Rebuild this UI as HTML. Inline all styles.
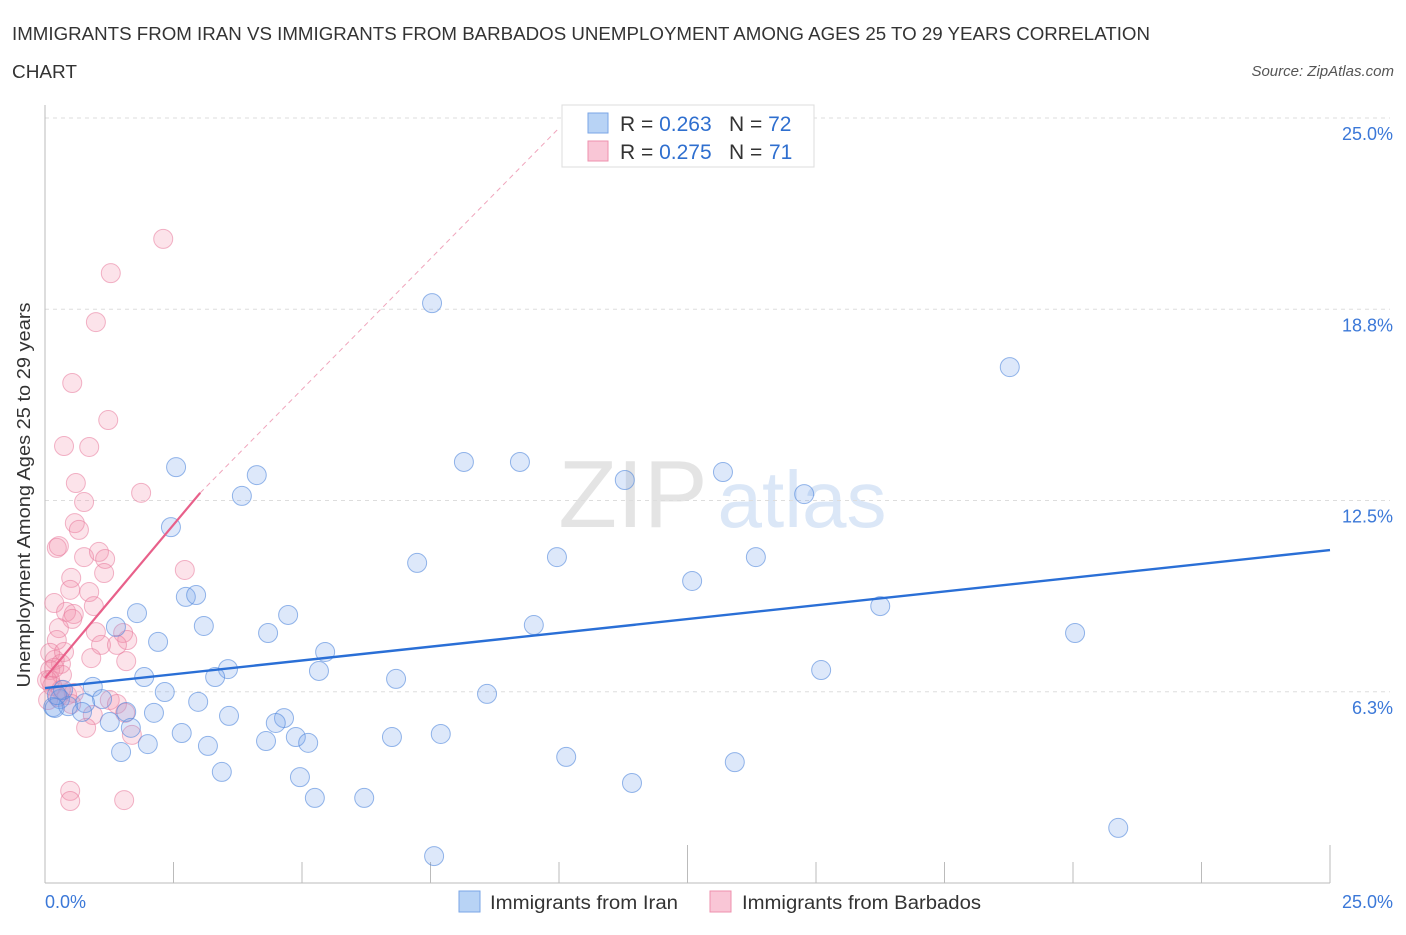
<!DOCTYPE html>
<html><head><meta charset="utf-8"><style>
body{margin:0;background:#fff;font-family:"Liberation Sans",sans-serif;}
svg text{font-family:"Liberation Sans",sans-serif;white-space:pre;}
</style></head><body>
<svg id="chart" width="1406" height="930" viewBox="0 0 1406 930">
<text x="12" y="40" font-size="18" fill="#333" textLength="1138" lengthAdjust="spacingAndGlyphs">IMMIGRANTS FROM IRAN VS IMMIGRANTS FROM BARBADOS UNEMPLOYMENT AMONG AGES 25 TO 29 YEARS CORRELATION</text>
<text x="12" y="78" font-size="18" fill="#333" textLength="65" lengthAdjust="spacingAndGlyphs">CHART</text>
<text x="1394" y="76" font-size="15" fill="#555" font-style="italic" text-anchor="end">Source: ZipAtlas.com</text>
<text x="30" y="495" font-size="18" fill="#333" text-anchor="middle" transform="rotate(-90 30 495)" textLength="385" lengthAdjust="spacingAndGlyphs">Unemployment Among Ages 25 to 29 years</text>
<g id="watermark">
<text x="633" y="527" font-size="96" fill="#e4e4e4" font-family="Liberation Serif" text-anchor="middle">ZIP</text>
<text x="802" y="527" font-size="80" fill="#dbe7f7" text-anchor="middle">atlas</text>
</g>
<g id="grid"></g>
<g id="ticks"></g>
<g id="points"></g>
<g id="lines"></g>
<g>
<rect x="562" y="105" width="252" height="62" fill="#fff" stroke="#ddd"/>
<rect x="588" y="113" width="20" height="20" fill="#b8d3f5" stroke="#7aa6e6"/>
<rect x="588" y="141" width="20" height="20" fill="#f9c6d6" stroke="#ee90ae"/>
<text x="620" y="131" font-size="21" fill="#333">R = <tspan fill="#2f6fcf">0.263</tspan><tspan x="729">N = </tspan><tspan fill="#2f6fcf">72</tspan></text>
<text x="620" y="159" font-size="21" fill="#333">R = <tspan fill="#2f6fcf">0.275</tspan><tspan x="729">N = </tspan><tspan x="769" fill="#2f6fcf">71</tspan></text>
</g>
<g>
<rect x="459" y="891" width="21" height="21" fill="#b8d3f5" stroke="#7aa6e6"/>
<text x="490" y="909" font-size="19" fill="#333" textLength="188" lengthAdjust="spacingAndGlyphs">Immigrants from Iran</text>
<rect x="710" y="891" width="21" height="21" fill="#f9c6d6" stroke="#ee90ae"/>
<text x="742" y="909" font-size="19" fill="#333" textLength="239" lengthAdjust="spacingAndGlyphs">Immigrants from Barbados</text>
</g>
</svg>
<script>
const yTicks=[25.0,18.75,12.5,6.25];
const yTickLabels=["25.0%","18.8%","12.5%","6.3%"];
const xTickLabels=["0.0%","25.0%"];
const iranX=[7.53,18.77,2.55,4.12,8.15,9.24,13.19,11.28,3.83,14.77,2.45,9.96,13.83,7.24,12.59,2.74,2.94,16.25,1.79,4.73,3.09,1.38,9.51,4.34,20.04,2.20,5.45,3.56,5.33,15.10,1.93,3.31,6.83,0.93,2.33,8.60,1.11,0.29,0.16,2.98,0.45,0.78,0.72,1.58,2.12,3.58,4.65,4.49,1.26,1.67,2.66,4.88,6.75,7.70,4.30,5.12,2.00,3.17,1.48,10.14,13.42,3.44,4.96,11.42,5.25,6.21,20.88,7.57,0.19,0.35,0.23];
const iranY=[18.95,16.86,13.59,13.33,13.76,13.76,13.43,13.17,12.65,12.71,11.63,10.65,10.65,10.46,9.87,9.35,9.41,9.05,8.82,8.76,8.40,8.37,8.43,8.17,8.17,7.88,7.55,6.99,6.93,6.96,6.73,6.73,6.67,6.41,6.24,6.18,6.01,6.01,5.75,5.92,5.78,5.88,5.59,5.59,5.56,5.46,5.39,5.23,5.26,5.07,4.90,4.77,4.77,4.87,4.64,4.58,4.54,4.48,4.28,4.12,3.95,3.63,3.46,3.27,2.78,2.78,1.80,0.88,5.72,6.31,6.14];
const barbX=[2.30,1.28,0.99,0.53,1.23,0.37,0.86,0.60,1.87,0.76,0.58,0.66,0.23,0.27,0.76,1.05,1.17,2.72,1.15,0.51,0.49,0.86,0.18,0.95,0.41,0.56,0.53,0.27,0.23,1.52,0.99,1.60,1.09,1.40,0.10,0.19,0.90,1.58,0.31,0.10,0.33,0.10,0.14,0.31,0.43,0.56,1.26,1.40,0.51,1.56,0.93,0.80,1.69,0.49,0.49,1.54,0.06,0.18,0.25,0.04,0.37];
const barbY=[21.05,19.93,18.33,16.34,15.13,14.28,14.25,13.07,12.75,12.45,11.76,11.54,10.95,11.01,10.65,10.82,10.59,10.23,10.13,9.97,9.58,9.51,9.15,9.05,8.86,8.79,8.63,8.33,7.94,8.17,8.20,7.94,7.78,7.78,7.52,7.29,7.35,7.25,7.16,6.96,6.80,6.63,6.44,6.31,6.14,6.21,5.98,5.85,5.85,5.56,5.49,5.07,4.84,3.01,2.68,2.71,5.98,7.03,6.08,6.63,7.55];
const iranFit=[6.37,10.88];
const barbFit=[6.70,12.75,3.02];
const barbDashEnd=[10.0,24.67];

const X0=45,X1=1330,Y0=883,Y1=118;
const sx=v=>X0+(X1-X0)*v/25;
const sy=v=>Y0-(Y0-Y1)*v/25;
const NS="http://www.w3.org/2000/svg";
function mk(tag,attrs,parent){const e=document.createElementNS(NS,tag);for(const k in attrs)e.setAttribute(k,attrs[k]);document.getElementById(parent).appendChild(e);return e;}

yTicks.forEach((t,i)=>{
 const y=sy(t);
 const g=mk('line',{x1:X0,x2:1390,y1:y,y2:y,stroke:'#ddd','stroke-dasharray':'4,4'},'grid');
 
 
 const l=mk('text',{x:1393,y:y+22,'font-size':18,fill:'#3b78d8','text-anchor':'end'},'grid');
 l.textContent=yTickLabels[i];
 
 
});
const ax=mk('line',{x1:X0,x2:X1,y1:Y0,y2:Y0,stroke:'#bbb'},'ticks');


const ay=mk('line',{x1:X0,x2:X0,y1:105,y2:Y0,stroke:'#bbb'},'ticks');


for(let i=1;i<=10;i++){
 const x=sx(i*2.5);const tall=(i===5||i===10);
 const t=mk('line',{x1:x,x2:x,y1:tall?845:862,y2:Y0,stroke:'#bbb'},'ticks');
 
 
}
const xl0=mk('text',{x:45,y:908,'font-size':18,fill:'#3b78d8'},'ticks');xl0.textContent=xTickLabels[0];


const xl1=mk('text',{x:1393,y:908,'font-size':18,fill:'#3b78d8','text-anchor':'end'},'ticks');xl1.textContent=xTickLabels[1];



barbX.forEach((v,i)=>{
 const c=mk('circle',{cx:sx(v),cy:sy(barbY[i]),r:9.5,fill:'rgba(244,143,172,0.25)',stroke:'rgba(232,120,155,0.55)','stroke-width':1},'points');
 
 
});
iranX.forEach((v,i)=>{
 const c=mk('circle',{cx:sx(v),cy:sy(iranY[i]),r:9.5,fill:'rgba(120,165,235,0.25)',stroke:'rgba(80,135,220,0.6)','stroke-width':1},'points');
 
 
});
const dash=mk('line',{x1:sx(barbFit[2]),y1:sy(barbFit[1]),x2:sx(barbDashEnd[0]),y2:sy(barbDashEnd[1]),stroke:'#f0a5bc','stroke-width':1,'stroke-dasharray':'5,4'},'lines');


const pl=mk('line',{x1:sx(0),y1:sy(barbFit[0]),x2:sx(barbFit[2]),y2:sy(barbFit[1]),stroke:'#e8608a','stroke-width':2.2},'lines');


const bl=mk('line',{x1:sx(0),y1:sy(iranFit[0]),x2:sx(25),y2:sy(iranFit[1]),stroke:'#2a6fd6','stroke-width':2.4},'lines');


</script>
</body></html>
